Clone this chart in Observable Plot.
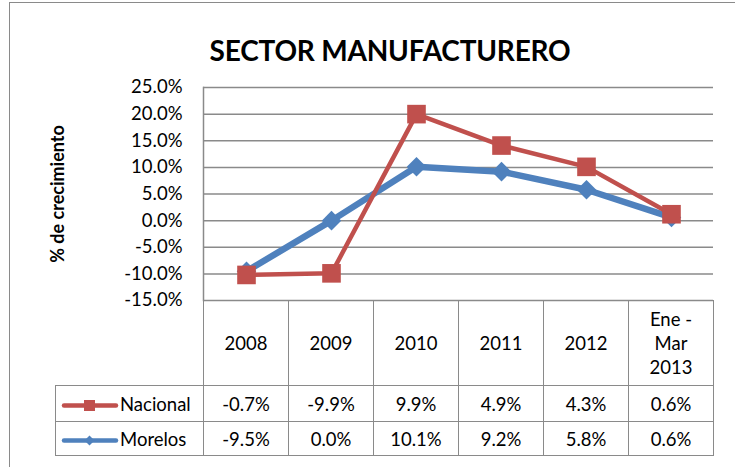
<!DOCTYPE html>
<html>
<head>
<meta charset="utf-8">
<script src="https://cdn.jsdelivr.net/npm/d3@7"></script>
<script src="https://cdn.jsdelivr.net/npm/@observablehq/plot@0.6"></script>
<style>
  html, body { margin: 0; padding: 0; background: #fff; }
  body { font-family: Lato, "Open Sans", sans-serif; color: #000; }
  #wrap { position: relative; width: 735px; height: 467px; overflow: hidden; background: #fff; }
  #frame { position: absolute; left: 9px; top: 2px; width: 800px; height: 600px; border: 1.5px solid #8a8a8a; box-sizing: border-box; }
  #title { position: absolute; left: 390px; top: 33px; transform: translateX(-50%); white-space: nowrap;
           font-weight: bold; font-size: 28px; letter-spacing: -0.2px; }
  #ylabel { position: absolute; left: 57px; top: 194px; transform: translate(-50%, -50%) rotate(-90deg);
            white-space: nowrap; font-weight: bold; font-size: 18px; }
  #chart { position: absolute; left: 0; top: 0; }
  #chart svg { overflow: visible; }
  #tbl { position: absolute; left: 55px; top: 300px; border-collapse: collapse; table-layout: fixed; font-size: 18.5px; }
  #tbl td { border: 1.5px solid #8a8a8a; text-align: center; vertical-align: middle; padding: 0; }
  #tbl tr.hdr td { height: 84px; line-height: 24px; }
  #tbl tr.hdr td.blank { border-left: none; border-top: none; }
  #tbl tr.r1 td { height: 35px; }
  #tbl tr.r2 td { height: 33px; }
  #tbl td.leg { text-align: left; padding-left: 5px; white-space: nowrap; }
  #tbl td.leg svg { vertical-align: middle; margin-right: 1px; }
</style>
</head>
<body>
<div id="wrap">
  <div id="frame"></div>
  <div id="chart"></div>
  <div id="title">SECTOR MANUFACTURERO</div>
  <div id="ylabel">% de crecimiento</div>
  <table id="tbl"></table>
</div>
<script>
// ---- data ----
const categories = ["2008", "2009", "2010", "2011", "2012", "Ene - Mar 2013"];
const headerLabels = [["2008"], ["2009"], ["2010"], ["2011"], ["2012"], ["Ene -", "Mar", "2013"]];
const nacional = [-0.7, -9.9, 9.9, 4.9, 4.3, 0.6];
const morelos = [-9.5, 0.0, 10.1, 9.2, 5.8, 0.6];
const yTicks = [25, 20, 15, 10, 5, 0, -5, -10, -15];
const colors = {Nacional: "#C0504D", Morelos: "#4F81BD"};

// stacked line chart (as in the original): Morelos is the base, Nacional is stacked on top of it
const morelosRows = categories.map((c, i) => ({cat: c, value: morelos[i]}));
const nacionalRows = categories.map((c, i) => ({cat: c, value: nacional[i], base: morelos[i], top: morelos[i] + nacional[i]}));

const fmt = d => d.toFixed(1) + "%";

const plot = Plot.plot({
  width: 735,
  height: 302,
  marginTop: 87,
  marginBottom: 2,
  marginLeft: 203,
  marginRight: 22,
  style: {fontFamily: "Lato, 'Open Sans', sans-serif", fontSize: "18.5px", color: "#000", background: "transparent"},
  x: {type: "point", domain: categories, padding: 0.5, axis: null},
  y: {domain: [-15, 25], ticks: yTicks, tickFormat: fmt, tickSize: 0, tickPadding: 21, label: null},
  marks: [
    Plot.ruleY(yTicks, {stroke: "#8a8a8a", strokeWidth: 1.5}),
    Plot.frame({anchor: "left", stroke: "#8a8a8a", strokeWidth: 1.5}),
    // Morelos (base series)
    Plot.line(morelosRows, {x: "cat", y: "value", stroke: colors.Morelos, strokeWidth: 6.5, strokeLinejoin: "round"}),
    Plot.dot(morelosRows, {x: "cat", y: "value", symbol: "diamond2", r: 8.8, fill: colors.Morelos, stroke: null}),
    // Nacional stacked on Morelos
    Plot.line(nacionalRows, {x: "cat", y: "top", stroke: colors.Nacional, strokeWidth: 4.5}),
    Plot.dot(nacionalRows, {x: "cat", y: "top", symbol: "square", r: 10.5, fill: colors.Nacional, stroke: null})
  ]
});
document.getElementById("chart").appendChild(plot);

// ---- data table under the chart ----
const tbl = d3.select("#tbl");
const cg = tbl.append("colgroup");
cg.append("col").style("width", "148px");
categories.forEach(() => cg.append("col").style("width", "85px"));

const hdr = tbl.append("tr").attr("class", "hdr");
hdr.append("td").attr("class", "blank");
headerLabels.forEach(lines => hdr.append("td").html(lines.join("<br>")));

const swatch = name => {
  const c = colors[name];
  const marker = name === "Nacional"
    ? `<rect x="23" y="3" width="11" height="11" fill="${c}"/>`
    : `<path d="M28.5 3.5 L33.5 8.5 L28.5 13.5 L23.5 8.5 Z" fill="${c}"/>`;
  return `<svg width="58" height="17"><line x1="3" y1="8.5" x2="55" y2="8.5" stroke="${c}" stroke-width="4.5" stroke-linecap="round"/>${marker}</svg>`;
};

[["Nacional", nacional, "r1"], ["Morelos", morelos, "r2"]].forEach(([name, vals, cls]) => {
  const tr = tbl.append("tr").attr("class", cls);
  tr.append("td").attr("class", "leg").html(swatch(name) + name);
  vals.forEach(v => tr.append("td").text(fmt(v)));
});
</script>
</body>
</html>
